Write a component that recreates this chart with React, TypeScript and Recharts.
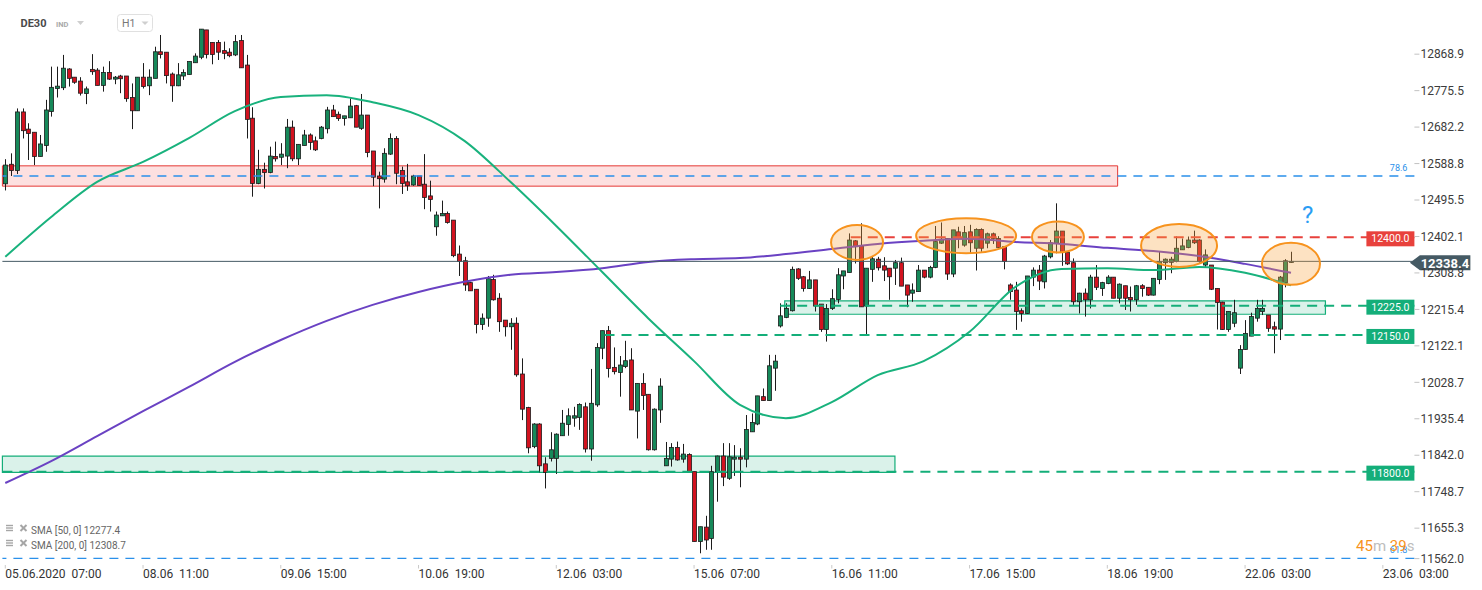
import React from 'react';
import {
  ComposedChart,
  Bar,
  Line,
  XAxis,
  YAxis,
  ReferenceLine,
  ReferenceArea,
  ReferenceDot,
} from 'recharts';

// DE30 hourly candles, 05.06 07:00 -> 22.06 11:00
const OPEN = [
  12537, 12587, 12571, 12721, 12677, 12669, 12607, 12635, 12722, 12781,
  12783, 12831, 12810, 12800, 12768, 12830, 12828, 12789, 12822, 12805,
  12813, 12813, 12758, 12724, 12810, 12788, 12807, 12875, 12874, 12818,
  12788, 12813, 12817, 12847, 12861, 12931, 12899, 12899, 12878, 12874,
  12867, 12904, 12841, 12705, 12538, 12574, 12566, 12607, 12605, 12608,
  12682, 12601, 12635, 12662, 12647, 12653, 12678, 12726, 12715, 12704,
  12706, 12737, 12679, 12713, 12621, 12557, 12549, 12613, 12653, 12571,
  12542, 12534, 12557, 12536, 12506, 12427, 12455, 12461, 12444, 12357,
  12340, 12284, 12267, 12177, 12193, 12292, 12244, 12188, 12171, 12180,
  12050, 11964, 11864, 11922, 11820, 11834, 11834, 11892, 11921, 11937,
  11939, 11966, 11858, 11971, 12116, 12161, 12067, 12054, 12069, 12086,
  11955, 12026, 11998, 11856, 11958, 11815, 11832, 11862, 11832, 11844,
  11800, 11621, 11658, 11629, 11800, 11840, 11783, 11832, 11837, 11832,
  11902, 11922, 11992, 11982, 12065, 12173, 12195, 12212, 12319, 12299,
  12269, 12291, 12229, 12164, 12218, 12241, 12301, 12310, 12391, 12378,
  12224, 12318, 12344, 12327, 12321, 12321, 12335, 12278, 12257, 12261,
  12316, 12298, 12323, 12385, 12397, 12306, 12414, 12380, 12414, 12372,
  12420, 12385, 12409, 12397, 12376, 12278, 12265, 12212, 12205, 12298,
  12316, 12286, 12350, 12385, 12416, 12361, 12335, 12235, 12257, 12240,
  12298, 12269, 12282, 12298, 12244, 12276, 12246, 12240, 12276, 12272,
  12252, 12292, 12335, 12336, 12338, 12368, 12374, 12393, 12393, 12329,
  12329, 12269, 12234, 12164, 12180, 12065, 12113, 12147, 12193, 12210,
  12201, 12171, 12165, 12284, 12338,
];

const HIGH = [
  12600, 12615, 12730, 12730, 12692, 12669, 12662, 12752, 12837, 12837,
  12867, 12833, 12810, 12810, 12786, 12869, 12833, 12837, 12851, 12813,
  12816, 12813, 12794, 12810, 12846, 12830, 12888, 12918, 12874, 12822,
  12846, 12830, 12850, 12871, 12933, 12931, 12899, 12905, 12901, 12884,
  12918, 12918, 12867, 12733, 12624, 12591, 12632, 12645, 12641, 12703,
  12699, 12638, 12675, 12666, 12658, 12685, 12734, 12739, 12722, 12711,
  12756, 12739, 12767, 12713, 12621, 12568, 12628, 12666, 12659, 12581,
  12588, 12560, 12557, 12613, 12545, 12466, 12494, 12466, 12444, 12379,
  12350, 12286, 12267, 12205, 12301, 12304, 12257, 12188, 12193, 12195,
  12090, 11966, 11924, 11924, 11837, 11901, 11898, 11958, 11962, 11966,
  11975, 11977, 12063, 12129, 12161, 12173, 12118, 12096, 12135, 12116,
  12026, 12052, 11998, 11962, 12039, 11876, 11873, 11877, 11871, 11847,
  11800, 11659, 11687, 11815, 11841, 11873, 11873, 11868, 11860, 11945,
  11949, 11994, 12013, 12099, 12099, 12231, 12231, 12325, 12321, 12301,
  12314, 12291, 12229, 12229, 12267, 12321, 12314, 12410, 12393, 12436,
  12321, 12352, 12350, 12349, 12321, 12342, 12348, 12278, 12282, 12329,
  12316, 12327, 12429, 12438, 12397, 12419, 12427, 12429, 12432, 12423,
  12423, 12412, 12412, 12403, 12376, 12282, 12286, 12218, 12301, 12323,
  12329, 12355, 12393, 12487, 12416, 12361, 12346, 12258, 12269, 12304,
  12329, 12286, 12303, 12298, 12282, 12276, 12274, 12278, 12280, 12272,
  12295, 12363, 12346, 12350, 12402, 12397, 12402, 12417, 12395, 12369,
  12329, 12269, 12235, 12210, 12240, 12124, 12188, 12207, 12240, 12240,
  12201, 12184, 12301, 12344, 12363,
];

const LOW = [
  12520, 12557, 12562, 12653, 12598, 12585, 12607, 12619, 12709, 12758,
  12777, 12786, 12793, 12763, 12741, 12816, 12789, 12773, 12803, 12792,
  12769, 12747, 12677, 12724, 12781, 12764, 12807, 12858, 12794, 12747,
  12787, 12803, 12817, 12847, 12856, 12858, 12843, 12854, 12856, 12861,
  12864, 12834, 12653, 12504, 12536, 12525, 12564, 12594, 12585, 12577,
  12595, 12585, 12635, 12624, 12621, 12651, 12666, 12709, 12698, 12686,
  12706, 12682, 12675, 12605, 12531, 12474, 12540, 12611, 12536, 12511,
  12519, 12532, 12533, 12472, 12466, 12404, 12455, 12435, 12349, 12301,
  12263, 12263, 12154, 12163, 12171, 12238, 12158, 12146, 12112, 12043,
  11932, 11847, 11860, 11798, 11757, 11826, 11794, 11892, 11892, 11915,
  11907, 11849, 11828, 11966, 12088, 12041, 12049, 11992, 12065, 11958,
  11885, 11958, 11854, 11854, 11925, 11815, 11813, 11828, 11823, 11800,
  11621, 11591, 11600, 11600, 11723, 11763, 11779, 11789, 11760, 11811,
  11902, 11919, 11982, 11982, 12007, 12169, 12193, 12210, 12291, 12261,
  12268, 12210, 12158, 12133, 12214, 12231, 12267, 12310, 12333, 12222,
  12150, 12286, 12315, 12288, 12240, 12278, 12275, 12221, 12235, 12261,
  12295, 12295, 12321, 12383, 12291, 12298, 12372, 12376, 12359, 12315,
  12363, 12372, 12383, 12372, 12318, 12240, 12163, 12184, 12204, 12275,
  12265, 12269, 12346, 12359, 12327, 12329, 12227, 12205, 12197, 12218,
  12265, 12250, 12280, 12244, 12231, 12214, 12210, 12227, 12248, 12250,
  12251, 12280, 12291, 12308, 12336, 12368, 12372, 12383, 12335, 12323,
  12265, 12164, 12163, 12158, 12170, 12050, 12112, 12147, 12184, 12201,
  12158, 12103, 12137, 12272, 12335,
];

const CLOSE = [
  12585, 12571, 12721, 12673, 12666, 12607, 12639, 12726, 12784, 12787,
  12833, 12807, 12797, 12769, 12780, 12824, 12789, 12822, 12805, 12810,
  12806, 12755, 12724, 12810, 12786, 12810, 12875, 12868, 12814, 12788,
  12816, 12822, 12850, 12864, 12933, 12868, 12868, 12874, 12871, 12865,
  12901, 12834, 12702, 12538, 12574, 12566, 12608, 12601, 12613, 12682,
  12601, 12638, 12662, 12643, 12624, 12682, 12726, 12709, 12704, 12711,
  12736, 12682, 12713, 12617, 12554, 12550, 12615, 12653, 12564, 12538,
  12532, 12557, 12533, 12502, 12497, 12457, 12461, 12438, 12353, 12338,
  12278, 12263, 12177, 12193, 12294, 12240, 12184, 12171, 12180, 12048,
  11960, 11861, 11922, 11815, 11798, 11856, 11896, 11924, 11943, 11943,
  11972, 11858, 11975, 12118, 12161, 12064, 12056, 12073, 12084, 11958,
  12026, 11995, 11856, 11960, 12019, 11834, 11862, 11830, 11845, 11800,
  11621, 11659, 11625, 11800, 11840, 11786, 11838, 11837, 11832, 11908,
  11926, 11994, 11982, 12071, 12083, 12199, 12218, 12318, 12295, 12269,
  12291, 12224, 12164, 12218, 12243, 12304, 12314, 12393, 12376, 12222,
  12321, 12345, 12322, 12316, 12299, 12335, 12275, 12252, 12265, 12316,
  12298, 12323, 12389, 12395, 12306, 12419, 12397, 12412, 12386, 12420,
  12372, 12409, 12397, 12374, 12338, 12261, 12210, 12205, 12301, 12316,
  12288, 12352, 12386, 12416, 12361, 12332, 12235, 12257, 12240, 12298,
  12272, 12284, 12298, 12244, 12280, 12244, 12240, 12276, 12269, 12252,
  12295, 12338, 12344, 12344, 12372, 12378, 12393, 12386, 12338, 12355,
  12267, 12233, 12164, 12210, 12207, 12113, 12154, 12197, 12218, 12218,
  12167, 12165, 12298, 12340, 12338.4,
];

// moving averages, read every 8th candle
const SMA_IDX = [
  0, 8, 16, 24, 32, 40, 48, 56, 64, 72, 80, 88, 96, 104, 112,
  120, 128, 136, 144, 152, 160, 168, 176, 184, 192, 200, 208, 216, 224,
];
const SMA50 = [
  12350, 12452, 12542, 12593, 12654, 12723, 12759, 12764, 12746, 12713,
  12647, 12542, 12429, 12311, 12193, 12083, 11971, 11937, 11978, 12047,
  12083, 12158, 12273, 12319, 12321, 12316, 12324, 12309, 12277,
];
const SMA200 = [
  11771, 11827, 11891, 11955, 12017, 12081, 12137, 12186, 12227, 12260,
  12286, 12304, 12311, 12321, 12337, 12344, 12347, 12357, 12370, 12383,
  12391, 12396, 12388, 12383, 12373, 12365, 12352, 12332, 12309,
];

const TIME_TICKS = [0, 24, 48, 72, 96, 120, 144, 168, 192, 216, 240];
const TIME_LABELS = [
  '05.06.2020  07:00', '08.06  11:00', '09.06  15:00', '10.06  19:00',
  '12.06  03:00', '15.06  07:00', '16.06  11:00', '17.06  15:00',
  '18.06  19:00', '22.06  03:00', '23.06  03:00',
];
const PRICE_TICKS = [
  11562.0, 11655.3, 11748.7, 11842.0, 11935.4, 12028.7, 12122.1, 12215.4,
  12308.8, 12402.1, 12495.5, 12588.8, 12682.2, 12775.5, 12868.9,
];

// levels and zones drawn by the analyst
const LAST_PRICE = 12338.4;
const FIB_LEVELS = [['78.6', 12557], ['61.8', 11578]] as const;
const KEY_LEVELS = [
  { price: 12400, from: 147.3, color: 'red' },
  { price: 12225, from: 135, color: 'green' },
  { price: 12150, from: 104.4, color: 'green' },
  { price: 11800, from: -0.5, color: 'green' },
];
const RED_ZONE = { from: -0.5, to: 193.8, low: 12531, high: 12583 };
const GREEN_ZONES = [
  { from: -0.5, to: 155, low: 11798, high: 11840 },
  { from: 135.8, to: 230, low: 12203, high: 12237 },
];
const TOP_MARKS = [
  { i: 148.4, p: 12387 },
  { i: 167.4, p: 12404 },
  { i: 183.4, p: 12401 },
  { i: 204.5, p: 12379 },
  { i: 224.0, p: 12332 },
];
const QUESTION_AT = { i: 226.9, p: 12457 };

const ELLIPSE_SIZE = [[26, 17.5], [50, 17.5], [26, 15.5], [38, 21.5], [29, 21]];

const UP = '#16895a';
const DOWN = '#d2121f';
const WICK = '#1c1c1c';
const C_GREEN = '#14ae79';
const C_RED = '#e8413c';
const C_BLUE = '#2a90ea';
const FONT = 'Roboto, sans-serif';

const SLOTS = 246; // candles plus empty room up to the price axis

const rows = Array.from({ length: SLOTS }, (_, i) => {
  const has = i < OPEN.length;
  const k = SMA_IDX.indexOf(i);
  return {
    i,
    o: has ? OPEN[i] : null,
    h: has ? HIGH[i] : null,
    l: has ? LOW[i] : null,
    c: has ? CLOSE[i] : null,
    range: has ? [LOW[i], HIGH[i]] : null,
    s50: k >= 0 ? SMA50[k] : null,
    s200: k >= 0 ? SMA200[k] : null,
  };
});

const Candle = (props: any) => {
  const { x, y, width, height } = props;
  const d = props.payload ?? props;
  if (d == null || d.o == null) return null;
  const top = Math.min(y, y + height);
  const span = Math.abs(height);
  const k = d.h > d.l ? span / (d.h - d.l) : 0;
  const py = (v: number) => top + (d.h - v) * k;
  const cx = Math.round(x + width / 2) + 0.5;
  const up = d.c >= d.o;
  const bTop = py(Math.max(d.o, d.c));
  const bH = Math.max(1, Math.abs(py(d.o) - py(d.c)));
  return (
    <g>
      <line x1={cx} x2={cx} y1={top} y2={top + span} stroke={WICK} strokeWidth={1} />
      <rect x={cx - 2} y={bTop} width={4} height={bH} fill={up ? UP : DOWN} stroke={WICK} strokeWidth={0.8} />
    </g>
  );
};

// plot bottom edge, used to place the date labels under it
const AXIS_TOP = 565;

const TimeTick = ({ x, payload }: any) => {
  const k = TIME_TICKS.indexOf(payload.value);
  return (
    <g>
      <line x1={x} x2={x} y1={AXIS_TOP} y2={AXIS_TOP + 3.5} stroke="#c9c9c9" />
      <text x={x} y={AXIS_TOP + 13} fontSize={12} fill="#333" fontFamily={FONT} style={{ whiteSpace: 'pre' }}>
        {TIME_LABELS[k]}
      </text>
    </g>
  );
};

const PriceTick = ({ x, y, payload }: any) => {
  const v = payload.value as number;
  const yy = v === PRICE_TICKS[0] ? y - 6 : y;
  const ax = x - 8;
  return (
    <g>
      <line x1={ax} x2={ax + 5} y1={yy} y2={yy} stroke="#c2c2c2" />
      <text x={ax + 6} y={yy} dy="0.35em" fontSize={12} fill="#3c3c3c" fontFamily={FONT}>
        {v.toFixed(1)}
      </text>
    </g>
  );
};

const levelTag = (text: string, color: string) => (props: any) => {
  const vb = props.viewBox || {};
  const right = vb.x + vb.width;
  const cy = vb.y;
  return (
    <g>
      <rect x={right - 48} y={cy - 6} width={48} height={15} fill={color} />
      <text x={right - 24} y={cy + 1.5} dy="0.35em" textAnchor="middle" fontSize={10.5} fill="#fff" fontFamily={FONT}>
        {text}
      </text>
    </g>
  );
};

const lastTag = (props: any) => {
  const vb = props.viewBox || {};
  const r = vb.x + vb.width;
  const cy = vb.y + 1.5;
  const pts = `${r - 4.5},${cy} ${r + 5.5},${cy - 7.5} ${r + 56},${cy - 7.5} ${r + 56},${cy + 7.5} ${r + 5.5},${cy + 7.5}`;
  return (
    <g>
      <polygon points={pts} fill="#455a64" />
      <text x={r + 30.5} y={cy} dy="0.36em" textAnchor="middle" fontSize={13} fontWeight={700} fill="#fff" fontFamily={FONT}>
        {LAST_PRICE.toFixed(1)}
      </text>
    </g>
  );
};

const fibLabel = (text: string) => (props: any) => {
  const vb = props.viewBox || {};
  return (
    <text x={vb.x + vb.width - 7} y={vb.y - 5} textAnchor="end" fontSize={9} fill={C_BLUE} fontFamily={FONT}>
      {text}
    </text>
  );
};

const ellipseShape = (k: number) => (p: any) => (
  <ellipse
    cx={p.cx}
    cy={p.cy}
    rx={ELLIPSE_SIZE[k][0]}
    ry={ELLIPSE_SIZE[k][1]}
    fill="#f9a640"
    fillOpacity={0.32}
    stroke="#f7931e"
    strokeWidth={2}
  />
);

const questionShape = (p: any) => (
  <text x={p.cx} y={p.cy} dy="0.35em" textAnchor="middle" fontSize={24} fill="#2a9df4" fontFamily={FONT}>
    ?
  </text>
);

const Overlay = () => (
  <svg width={1482} height={590} style={{ position: 'absolute', left: 0, top: 0, pointerEvents: 'none' }}>
    <text x={20.5} y={27} fontSize={11} fontWeight={700} fill="#4a4a4a" fontFamily={FONT}>DE30</text>
    <text x={56} y={26.5} fontSize={7.5} fontWeight={700} fill="#a9a9a9" fontFamily={FONT}>IND</text>
    <path d="M77 21 L84 21 L80.5 25 Z" fill="#cfcfcf" />
    <rect x={117.5} y={14.5} width={35} height={17} rx={3} fill="#fff" stroke="#e0e0e0" />
    <text x={122} y={27} fontSize={10.5} fill="#777" fontFamily={FONT}>H1</text>
    <path d="M141.5 21.5 L148.5 21.5 L145 25 Z" fill="#cfcfcf" />

    {['SMA [50, 0] 12277.4', 'SMA [200, 0] 12308.7'].map((t, k) => (
      <g key={t} transform={`translate(0, ${k * 15})`}>
        <line x1={6} x2={13} y1={525.5} y2={525.5} stroke="#a6a6a6" strokeWidth={1.4} />
        <line x1={6} x2={13} y1={528} y2={528} stroke="#a6a6a6" strokeWidth={1.4} />
        <line x1={6} x2={13} y1={530.5} y2={530.5} stroke="#a6a6a6" strokeWidth={1.4} />
        <line x1={20.5} x2={26.5} y1={525} y2={531} stroke="#a6a6a6" strokeWidth={2} />
        <line x1={26.5} x2={20.5} y1={525} y2={531} stroke="#a6a6a6" strokeWidth={2} />
        <text x={31} y={533.5} fontSize={10} fill="#666" fontFamily={FONT}>{t}</text>
      </g>
    ))}

    <text x={1356} y={551} fontSize={15} fontFamily={FONT}>
      <tspan fill="#f7941d">45</tspan>
      <tspan fill="#bdbdbd">m </tspan>
      <tspan fill="#f7941d">39</tspan>
      <tspan fill="#bdbdbd">s</tspan>
    </text>
  </svg>
);

export default function App() {
  return (
    <div style={{ position: 'absolute', left: 0, top: 0, width: 1482, height: 590, background: '#fff', fontFamily: FONT }}>
      <ComposedChart width={1482} height={590} data={rows} margin={{ top: 0, right: 0, bottom: 0, left: 2.4 }}>
        <XAxis
          xAxisId="n"
          dataKey="i"
          type="number"
          domain={[-0.5, SLOTS - 0.5]}
          allowDataOverflow
          ticks={TIME_TICKS}
          interval={0}
          tick={<TimeTick />}
          tickLine={false}
          axisLine={false}
          height={25}
        />
        <XAxis xAxisId="c" dataKey="i" type="category" hide height={0} />
        <YAxis
          orientation="right"
          domain={[11561, 13007.6]}
          allowDataOverflow
          ticks={PRICE_TICKS}
          interval={0}
          tick={<PriceTick />}
          tickLine={false}
          axisLine={false}
          width={67.6}
        />

        <Bar xAxisId="c" dataKey="range" shape={Candle} isAnimationActive={false} />

        <Line xAxisId="c" dataKey="s200" type="monotone" stroke="#6a42c3" strokeWidth={2} dot={false} connectNulls isAnimationActive={false} />
        <Line xAxisId="c" dataKey="s50" type="monotone" stroke="#19b27d" strokeWidth={2} dot={false} connectNulls isAnimationActive={false} />

        <ReferenceArea
          xAxisId="n"
          x1={RED_ZONE.from}
          x2={RED_ZONE.to}
          y1={RED_ZONE.low}
          y2={RED_ZONE.high}
          fill="#f03c3c"
          fillOpacity={0.16}
          stroke="#e53935"
          strokeWidth={1}
          ifOverflow="visible"
        />
        {GREEN_ZONES.map((z, k) => (
          <ReferenceArea
            key={k}
            xAxisId="n"
            x1={z.from}
            x2={z.to}
            y1={z.low}
            y2={z.high}
            fill="#19b07c"
            fillOpacity={0.16}
            stroke={C_GREEN}
            strokeWidth={1.2}
            ifOverflow="visible"
          />
        ))}

        {FIB_LEVELS.map(([name, price]) => (
          <ReferenceLine
            key={name}
            xAxisId="n"
            y={price}
            stroke={C_BLUE}
            strokeWidth={1.3}
            strokeDasharray="9 7"
            label={fibLabel(name)}
          />
        ))}

        <ReferenceLine xAxisId="n" y={LAST_PRICE} stroke="#455a64" strokeWidth={1} label={lastTag} />

        {KEY_LEVELS.map((lv) => (
          <ReferenceLine
            key={lv.price}
            xAxisId="n"
            segment={[
              { x: lv.from, y: lv.price },
              { x: SLOTS - 0.5, y: lv.price },
            ]}
            stroke={lv.color === 'red' ? C_RED : C_GREEN}
            strokeWidth={2}
            strokeDasharray="10 7"
            ifOverflow="visible"
            label={levelTag(lv.price.toFixed(1), lv.color === 'red' ? C_RED : C_GREEN)}
          />
        ))}

        {TOP_MARKS.map((m, k) => (
          <ReferenceDot key={k} xAxisId="n" x={m.i} y={m.p} r={20} shape={ellipseShape(k)} ifOverflow="visible" />
        ))}
        <ReferenceDot xAxisId="n" x={QUESTION_AT.i} y={QUESTION_AT.p} r={10} shape={questionShape} />
      </ComposedChart>
      <Overlay />
    </div>
  );
}
